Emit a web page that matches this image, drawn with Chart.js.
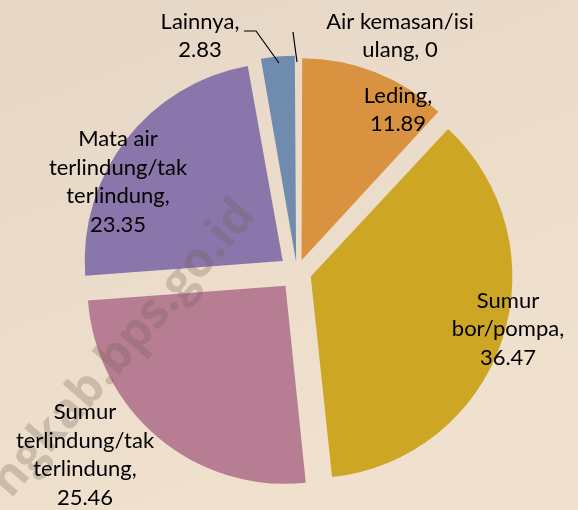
<!DOCTYPE html>
<html>
<head>
<meta charset="utf-8">
<script src="https://cdn.jsdelivr.net/npm/chart.js@4/dist/chart.umd.min.js"></script>
<style>
  html, body { margin: 0; padding: 0; background: #ECDDCB; }
  #wrap { width: 578px; height: 510px; }
</style>
</head>
<body>
<div id="wrap"><canvas id="c" width="578" height="510"></canvas></div>
<script>
// ---- data ----
const categories = [
  "Air kemasan/isi ulang",
  "Leding",
  "Sumur bor/pompa",
  "Sumur terlindung/tak terlindung",
  "Mata air terlindung/tak terlindung",
  "Lainnya"
];
const values = [0, 11.89, 36.47, 25.46, 23.35, 2.83];
const valueLabels = ["0", "11.89", "36.47", "25.46", "23.35", "2.83"];
// label text lines (category part, wrapped as in the reference)
const labelLines = [
  ["Air kemasan/isi", "ulang, "],
  ["Leding,"],
  ["Sumur", "bor/pompa,"],
  ["Sumur", "terlindung/tak", "terlindung,"],
  ["Mata air", "terlindung/tak", "terlindung,"],
  ["Lainnya,"]
];
const colors = ["#4F81BD", "#D9923F", "#CDA624", "#B77E93", "#8A76AA", "#6F8BAE"];

// ---- layout (label block centres relative to pie centre, px) ----
const labelPos = [
  [103, -236, true],
  [101, -162, false],
  [211, 57, false],
  [-212, 183, false],
  [-179, -90, false],
  [-97, -236, false]
];
const leaders = [
  [[-4, -240], [0, -210]],
  null, null, null, null,
  [[-53, -241], [-41, -241], [-18, -209]]
];

const bgPlugin = {
  id: 'bg',
  beforeDraw(chart) {
    const ctx = chart.ctx;
    const g = ctx.createLinearGradient(0, 0, 200, 510);
    g.addColorStop(0, '#E6D6C5');
    g.addColorStop(1, '#F0E0CE');
    ctx.save();
    ctx.fillStyle = g;
    ctx.fillRect(0, 0, chart.width, chart.height);
    ctx.restore();
  }
};

const labelPlugin = {
  id: 'labels',
  afterDatasetsDraw(chart) {
    const ctx = chart.ctx;
    const meta = chart.getDatasetMeta(0);
    const cx = meta.data[1].x, cy = meta.data[1].y;
    ctx.save();
    // watermark
    ctx.save();
    ctx.translate(cx - 40, cy - 56);
    ctx.rotate(-49 * Math.PI / 180);
    ctx.font = 'bold 48px "Open Sans"';
    ctx.fillStyle = 'rgba(110,92,82,0.27)';
    ctx.textAlign = 'right';
    ctx.textBaseline = 'alphabetic';
    ctx.fillText('ngkab.bps.go.id', 0, 0);
    ctx.restore();

    ctx.font = '22px Lato';
    ctx.fillStyle = '#000';
    ctx.textAlign = 'center';
    ctx.textBaseline = 'middle';
    const lh = 28.5;
    labelLines.forEach((lines, i) => {
      const all = lines.slice();
      if (labelPos[i][2]) all[all.length - 1] = all[all.length - 1] + valueLabels[i];
      else all.push(valueLabels[i]);
      const n = all.length;
      const x = cx + labelPos[i][0];
      const y0 = cy + labelPos[i][1] - (n - 1) * lh / 2;
      all.forEach((t, k) => ctx.fillText(t, x, y0 + k * lh));
    });
    ctx.strokeStyle = '#000';
    ctx.lineWidth = 1.2;
    leaders.forEach(l => {
      if (!l) return;
      ctx.beginPath();
      l.forEach((p, k) => k ? ctx.lineTo(cx + p[0], cy + p[1]) : ctx.moveTo(cx + p[0], cy + p[1]));
      ctx.stroke();
    });
    ctx.restore();
  }
};

new Chart(document.getElementById('c'), {
  type: 'pie',
  data: {
    labels: categories,
    datasets: [{
      data: values,
      backgroundColor: colors,
      borderWidth: 0,
      offset: [0, 50, 58, 72, 72, 40]
    }]
  },
  options: {
    responsive: false,
    animation: false,
    radius: 198,
    layout: { padding: { left: 16, right: 0, top: 34, bottom: 0 } },
    plugins: { legend: { display: false }, tooltip: { enabled: false } }
  },
  plugins: [bgPlugin, labelPlugin]
});
</script>
</body>
</html>
